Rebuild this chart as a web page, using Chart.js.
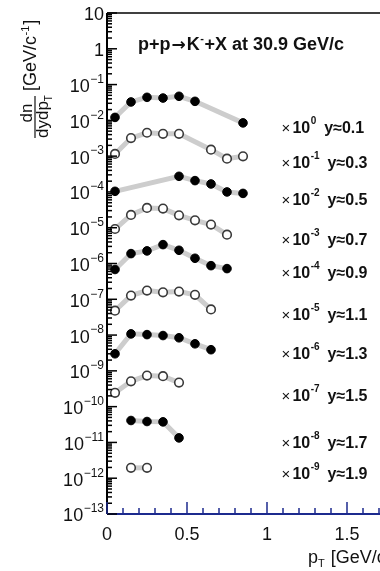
<!DOCTYPE html>
<html>
<head>
<meta charset="utf-8">
<script src="https://cdn.jsdelivr.net/npm/chart.js@4.4.1/dist/chart.umd.min.js"></script>
<style>
  html, body { margin: 0; padding: 0; background: #fff; overflow: hidden; }
  #wrap { width: 410px; height: 571px; }
</style>
</head>
<body>
<div id="wrap"><canvas id="spectra" width="410" height="571"></canvas></div>
<script>
// pT bin centres [GeV/c]
const ptBins = [0.05, 0.15, 0.25, 0.35, 0.45, 0.55, 0.65, 0.75, 0.85];
const rapidity = ["0.1", "0.3", "0.5", "0.7", "0.9", "1.1", "1.3", "1.5", "1.7", "1.9"];
const scaleExp = [0, -1, -2, -3, -4, -5, -6, -7, -8, -9];

// dn/dydpT as drawn (already multiplied by 10^scaleExp), null = no point
const yieldY01 = [1.21e-2, 3.27e-2, 4.4e-2, 4.2e-2, 4.7e-2, 3.4e-2, null, null, 8.5e-3];
const yieldY03 = [1.15e-3, 3.2e-3, 4.5e-3, 4.2e-3, 4.2e-3, null, 1.52e-3, 8.5e-4, 9.9e-4];
const yieldY05 = [1.04e-4, null, null, null, 2.73e-4, 2.07e-4, 1.67e-4, 1.0e-4, 9.1e-5];
const yieldY07 = [9.2e-6, 2.28e-5, 3.57e-5, 3.42e-5, 2.22e-5, 1.61e-5, 1.22e-5, 6.4e-6, null];
const yieldY09 = [6.8e-7, 1.89e-6, 2.25e-6, 3.37e-6, 2.34e-6, 1.4e-6, 8.7e-7, 7.2e-7, null];
const yieldY11 = [4.8e-8, 1.27e-7, 1.75e-7, 1.57e-7, 1.64e-7, 1.33e-7, 5.2e-8, null, null];
const yieldY13 = [3.0e-9, 1.08e-8, 1.03e-8, 9.7e-9, 8.4e-9, 5.7e-9, 3.9e-9, null, null];
const yieldY15 = [2.43e-10, 5.1e-10, 7.4e-10, 7.1e-10, 4.7e-10, null, null, null, null];
const yieldY17 = [null, 4.1e-11, 3.84e-11, 3.76e-11, 1.34e-11, null, null, null, null];
const yieldY19 = [null, 1.95e-12, 1.95e-12, null, null, null, null, null, null];

const allYields = [yieldY01, yieldY03, yieldY05, yieldY07, yieldY09,
                   yieldY11, yieldY13, yieldY15, yieldY17, yieldY19];

// where the "x 10^n  y~.." notes sit (x in GeV/c, y as log10)
const noteX = 1.09;
const noteLogY = [-2.2, -3.18, -4.215, -5.33, -6.25, -7.43, -8.52, -9.69, -11.0, -11.87];

const SANS = '"Liberation Sans", Arial, Helvetica, sans-serif';

const datasets = allYields.map((vals, i) => {
  const open = i % 2 === 1;
  return {
    label: "y≈" + rapidity[i],
    data: ptBins.map((pt, k) => ({ x: pt, y: vals[k] })).filter(p => p.y !== null),
    borderColor: "#cdcdcd",
    borderWidth: 5,
    pointRadius: 4.3,
    pointBorderWidth: open ? 1.6 : 1,
    pointBackgroundColor: open ? "#ffffff" : "#000000",
    pointBorderColor: open ? "#3a3a3a" : "#000000",
    tension: 0,
    fill: false
  };
});

function supText(ctx, base, sup, x, y, baseFont, supFont, rise) {
  ctx.font = baseFont;
  ctx.fillText(base, x, y);
  const w = ctx.measureText(base).width;
  ctx.font = supFont;
  ctx.fillText(sup, x + w + 0.5, y - rise);
  return w + 0.5 + ctx.measureText(sup).width;
}

const rootAxes = {
  id: "rootAxes",
  afterDatasetsDraw(chart) {
    const ctx = chart.ctx;
    const xs = chart.scales.x, ys = chart.scales.y;
    const a = chart.chartArea;
    ctx.save();

    // frame
    ctx.strokeStyle = "#000";
    ctx.lineWidth = 1.5;
    ctx.beginPath();
    ctx.moveTo(a.left, a.top); ctx.lineTo(a.right, a.top);
    ctx.stroke();
    ctx.lineWidth = 2;
    ctx.beginPath();
    ctx.moveTo(a.left, a.top); ctx.lineTo(a.left, a.bottom);
    ctx.stroke();
    ctx.strokeStyle = "#1c2a8e";
    ctx.beginPath();
    ctx.moveTo(a.left, a.bottom); ctx.lineTo(a.right, a.bottom);
    ctx.stroke();

    // y ticks (log)
    ctx.strokeStyle = "#000";
    ctx.lineWidth = 1.5;
    for (let e = -13; e <= 1; e++) {
      for (let m = 1; m <= 9; m++) {
        const v = m * Math.pow(10, e);
        if (v > 10.0001) break;
        const py = ys.getPixelForValue(v);
        const len = m === 1 ? 10 : 5;
        ctx.beginPath();
        ctx.moveTo(a.left, py); ctx.lineTo(a.left + len, py);
        ctx.stroke();
      }
    }
    // x ticks
    ctx.strokeStyle = "#1c2a8e";
    for (let t = 0; t <= 18; t++) {
      const px = xs.getPixelForValue(t / 10);
      const len = t % 5 === 0 ? 12 : 6;
      ctx.beginPath();
      ctx.moveTo(px, a.bottom); ctx.lineTo(px, a.bottom - len);
      ctx.stroke();
    }

    // y tick labels
    ctx.fillStyle = "#111";
    ctx.textBaseline = "middle";
    const tickFont = "18px " + SANS, expFont = "12px " + SANS;
    for (let e = 1; e >= -13; e--) {
      const py = ys.getPixelForValue(Math.pow(10, e));
      const right = a.left - 3;
      ctx.textAlign = "right";
      if (e >= 0) {
        ctx.font = tickFont;
        ctx.fillText(e === 1 ? "10" : "1", right, py + 2);
      } else {
        const ex = "\u2212" + (-e);
        ctx.font = expFont;
        const ew = ctx.measureText(ex).width;
        ctx.fillText(ex, right, py - 5);
        ctx.font = tickFont;
        ctx.fillText("10", right - ew - 0.5, py + 2.5);
      }
    }
    // x tick labels
    ctx.textAlign = "center";
    ctx.font = tickFont;
    ["0", "0.5", "1", "1.5"].forEach((s, i) => {
      ctx.fillText(s, xs.getPixelForValue(i * 0.5), a.bottom + 21);
    });

    // x title
    ctx.textAlign = "left";
    ctx.textBaseline = "alphabetic";
    ctx.font = "18px " + SANS;
    let px = 308;
    ctx.fillText("p", px, 563);
    px += ctx.measureText("p").width;
    ctx.font = "11px " + SANS;
    ctx.fillText("T", px, 567);
    px += ctx.measureText("T").width + 6;
    ctx.font = "18px " + SANS;
    ctx.fillText("[GeV/c]", px, 563);

    // y title (rotated)
    ctx.save();
    ctx.translate(0, 571);
    ctx.rotate(-Math.PI / 2);
    // in this frame u = 571 - screenY, v = screenX
    ctx.font = "17px " + SANS;
    ctx.textAlign = "center";
    ctx.fillText("dn", 571 - 113, 32);
    ctx.strokeStyle = "#111";
    ctx.lineWidth = 1.2;
    ctx.beginPath();
    ctx.moveTo(571 - 138, 35); ctx.lineTo(571 - 96, 35);
    ctx.stroke();
    ctx.textAlign = "left";
    let u = 571 - 138;
    ctx.font = "17px " + SANS;
    ctx.fillText("dydp", u, 48);
    u += ctx.measureText("dydp").width;
    ctx.font = "10px " + SANS;
    ctx.fillText("T", u, 52);
    u = 571 - 91;
    const w1 = supText(ctx, "[GeV/c", "-1", u, 36, "18px " + SANS, "11px " + SANS, 7);
    ctx.font = "18px " + SANS;
    ctx.fillText("]", u + w1 + 1, 36);
    ctx.restore();

    // title
    ctx.textAlign = "left";
    const titleFont = "bold 18px " + SANS;
    let tx = 138;
    ctx.font = titleFont;
    ctx.fillText("p+p", tx, 50);
    tx += ctx.measureText("p+p").width + 1;
    ctx.font = 'bold 17px "DejaVu Sans", sans-serif';
    ctx.fillText("\u2192", tx, 50);
    tx += ctx.measureText("\u2192").width + 1;
    ctx.font = titleFont;
    ctx.fillText("K", tx, 50);
    tx += ctx.measureText("K").width;
    ctx.font = "bold 11px " + SANS;
    ctx.fillText("-", tx + 0.5, 42);
    tx += ctx.measureText("-").width + 1;
    ctx.font = titleFont;
    ctx.fillText("+X at 30.9 GeV/c", tx, 50);

    // scale notes
    ctx.textBaseline = "middle";
    rapidity.forEach((r, i) => {
      const py = ys.getPixelForValue(Math.pow(10, noteLogY[i]));
      let nx = xs.getPixelForValue(noteX);
      ctx.font = "15px " + SANS;
      ctx.fillText("\u00d7", nx, py + 1);
      nx += 11;
      nx += supText(ctx, "10", String(scaleExp[i]), nx, py + 1, "bold 16px " + SANS, "bold 10px " + SANS, 7);
      ctx.font = "bold 16px " + SANS;
      ctx.fillText("y\u2248" + r, nx + 8, py + 1);
    });

    ctx.restore();
  }
};

new Chart(document.getElementById("spectra"), {
  type: "line",
  data: { datasets: datasets },
  options: {
    responsive: false,
    animation: false,
    layout: { padding: { left: 107, top: 13, right: 15, bottom: 57 } },
    plugins: { legend: { display: false }, tooltip: { enabled: false } },
    scales: {
      x: { type: "linear", min: 0, max: 1.8, display: false },
      y: { type: "logarithmic", min: 1e-13, max: 10, display: false }
    }
  },
  plugins: [rootAxes]
});
</script>
</body>
</html>
